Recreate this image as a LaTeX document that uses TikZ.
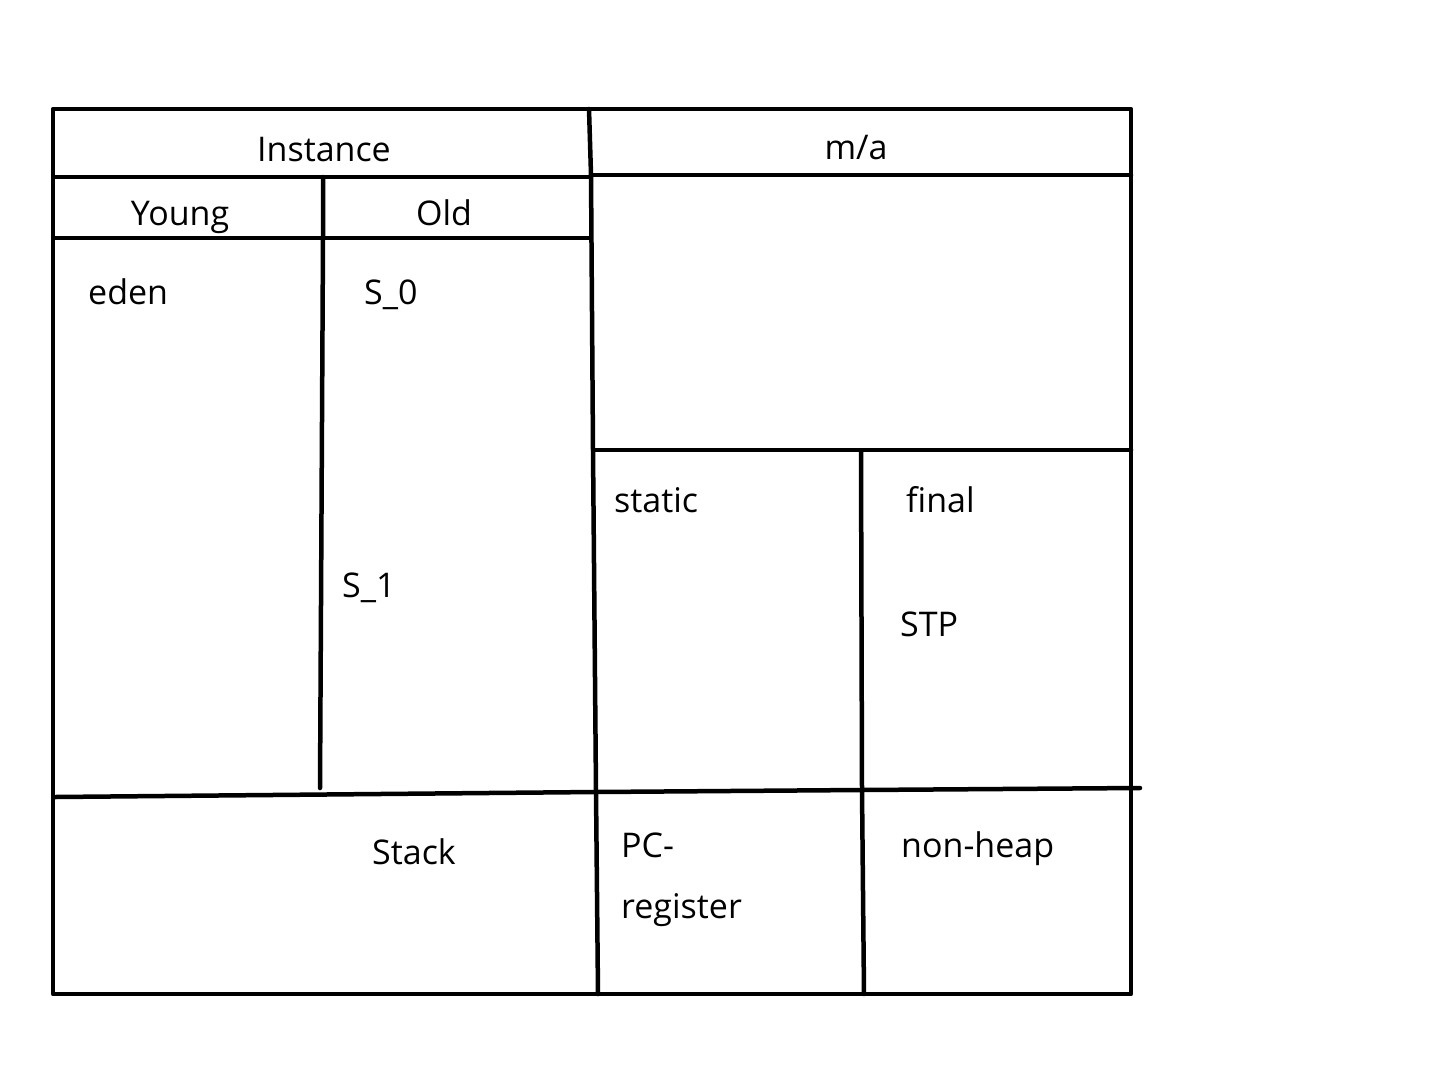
\documentclass[tikz,border=0pt]{standalone}
\usepackage{fontspec}
\setmainfont{Open Sans}
\begin{document}
\begin{tikzpicture}[x=1pt,y=-1pt,
  ln/.style={line width=4.5pt,line cap=round,line join=round},
  lb/.style={font=\fontsize{34}{40}\selectfont,inner sep=0pt,anchor=base},
  ll/.style={lb,anchor=base west}]
\useasboundingbox (0,0) rectangle (1450,1071);
% outer border
\coordinate (tl) at (53,109);
\coordinate (br) at (1131,994);
\draw[ln] (tl) rectangle (br);
% middle vertical
\coordinate (m1) at (589,109);
\coordinate (m2) at (591,175);
\coordinate (m3) at (593,450);
\coordinate (m4) at (596,792);
\coordinate (m5) at (598,994);
\draw[ln] (m1) -- (m2) -- (m3) -- (m4) -- (m5);
% header lines
\coordinate (h1) at (55,177);
\coordinate (h2) at (589,177);
\coordinate (h3) at (1131,175);
\draw[ln] (h1) -- (h2);
\draw[ln] (m2) -- (h3);
% Young / Old divider
\coordinate (y1) at (323,177);
\coordinate (y2) at (323,238);
\coordinate (y3) at (320,788);
\draw[ln] (y1) -- (y2) -- (y3);
\coordinate (g1) at (55,238);
\coordinate (g2) at (590,238);
\draw[ln] (g1) -- (g2);
% right horizontal
\coordinate (r2) at (1131,450);
\draw[ln] (m3) -- (r2);
% right vertical
\coordinate (v1) at (861,452);
\coordinate (v2) at (862,790);
\coordinate (v3) at (864,994);
\draw[ln] (v1) -- (v2) -- (v3);
% lower horizontal
\coordinate (b1) at (55,797);
\coordinate (b4) at (1140,788);
\draw[ln] (b1) -- (m4) -- (v2) -- (b4);
% labels
\node[lb] (inst) at (324,161) {Instance};
\node[lb] (ma) at (856,159) {m/a};
\node[lb] (young) at (180,225) {Young};
\node[lb] (old) at (444,225) {Old};
\node[ll] (eden) at (88,304) {eden};
\node[ll] (s0) at (364,304) {S\_0};
\node[ll] (s1) at (342,597) {S\_1};
\node[ll] (static) at (614,512) {static};
\node[ll] (final) at (906,512) {final};
\node[ll] (stp) at (900,636) {STP};
\node[ll] (stack) at (372,864) {Stack};
\node[ll] (pc) at (621,857) {PC-};
\node[ll] (reg) at (621,918) {register};
\node[ll] (nh) at (901,857) {non-heap};
\end{tikzpicture}
\end{document}
